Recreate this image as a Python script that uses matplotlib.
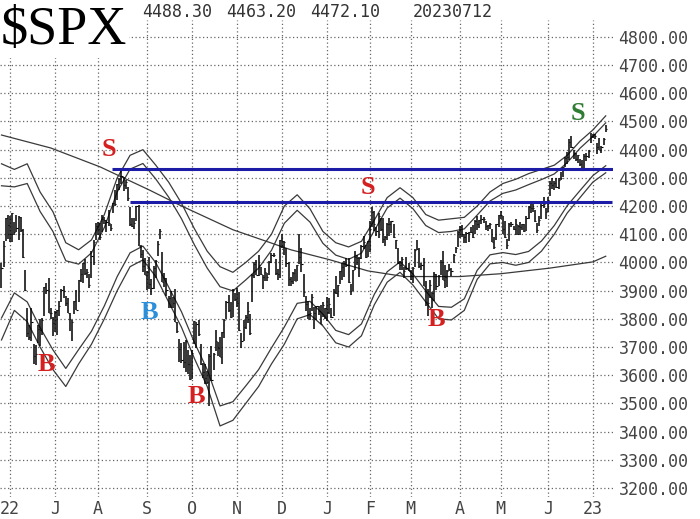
import numpy as np
import matplotlib
matplotlib.use("Agg")
import matplotlib.pyplot as plt

# daily bars, 25 May 2022 .. 12 Jul 2023 (trading-day index -4 .. 278)
hi = [3999, 4076, 4158, 4169,
      4166, 4177, 4142, 4168, 4164, 4160, 4120, 3974, 3838, 3778, 3837, 3711, 3707, 3779, 3798, 3802, 3913, 3928, 3945, 3838, 3807,
      3829, 3832, 3863, 3906, 3918, 3880, 3873, 3822, 3796, 3864, 3903, 3938, 3975, 3999, 4013, 3975, 3958, 4039, 4078, 4140,
      4145, 4141, 4167, 4161, 4151, 4187, 4138, 4211, 4257, 4280, 4301, 4325, 4302, 4292, 4267, 4195, 4159, 4156, 4200, 4203, 4062, 4044, 4015,
      3970, 4018, 3942, 3987, 4010, 4076, 4119, 4038, 3961, 3944, 3880, 3900, 3877, 3907, 3789, 3727, 3716, 3717, 3726, 3688, 3671,
      3688, 3791, 3790, 3797, 3710, 3644, 3640, 3616, 3675, 3703, 3679, 3762, 3718, 3736, 3753, 3799, 3862, 3886, 3859, 3905, 3893,
      3911, 3894, 3751, 3796, 3813, 3859, 3818, 3958, 4002, 4009, 4028, 3983, 3954, 3979, 3962, 4004, 4034, 4034, 4013, 3976, 4080,
      4100, 4076, 4052, 4002, 3950, 3966, 3977, 3991, 4101, 4053, 3958, 3880, 3864, 3839, 3889, 3841, 3846, 3846, 3849, 3858, 3839,
      3878, 3874, 3839, 3906, 3951, 3920, 3970, 3997, 4004, 4015, 4015, 3922, 3973, 4039, 4028, 4019, 4061, 4094, 4063, 4077,
      4148, 4195, 4182, 4124, 4176, 4157, 4156, 4094, 4140, 4156, 4148, 4136, 4081, 4050, 4004, 4018, 3983, 4018, 3997,
      3972, 3985, 4048, 4078, 4051, 3998, 4017, 3934, 3906, 3937, 3894, 3965, 3958, 3956, 4009, 4039, 3991, 3972, 3996, 3979, 4030, 4055, 4110,
      4129, 4134, 4100, 4108, 4109, 4125, 4132, 4150, 4163, 4151, 4169, 4160, 4148, 4133, 4141, 4120, 4089, 4138, 4170,
      4184, 4164, 4148, 4082, 4140, 4142, 4131, 4155, 4133, 4143, 4138, 4136, 4164, 4202, 4213, 4210, 4186, 4140, 4165, 4213, 4231, 4192,
      4232, 4290, 4300, 4289, 4299, 4298, 4322, 4340, 4375, 4391, 4439, 4448, 4400, 4387, 4382, 4366, 4363, 4384, 4390, 4398, 4458,
      4456, 4454, 4422, 4443, 4412, 4443, 4488]
lo = [3909, 3984, 4077, 4084,
      4073, 4074, 4098, 4109, 4080, 4107, 4017, 3900, 3734, 3724, 3723, 3640, 3636, 3715, 3705, 3743, 3810, 3889, 3820, 3799, 3739,
      3752, 3743, 3811, 3858, 3875, 3847, 3819, 3758, 3721, 3817, 3831, 3860, 3930, 3927, 3955, 3944, 3910, 3945, 3992, 4079,
      4096, 4080, 4107, 4135, 4108, 4128, 4112, 4177, 4201, 4220, 4256, 4277, 4254, 4262, 4218, 4129, 4124, 4120, 4147, 4057, 4017, 3965, 3954,
      3904, 3907, 3886, 3907, 3944, 4022, 4084, 3932, 3912, 3880, 3838, 3838, 3837, 3789, 3750, 3648, 3644, 3624, 3610, 3605, 3584,
      3585, 3709, 3695, 3739, 3636, 3590, 3570, 3570, 3491, 3578, 3618, 3687, 3668, 3664, 3640, 3733, 3799, 3824, 3803, 3808, 3863,
      3843, 3758, 3698, 3722, 3764, 3786, 3744, 3859, 3944, 3956, 3953, 3954, 3906, 3933, 3933, 3956, 3999, 4020, 3955, 3938, 3944,
      4051, 4026, 3984, 3918, 3916, 3923, 3933, 3935, 3994, 3965, 3879, 3828, 3800, 3795, 3827, 3765, 3795, 3813, 3783, 3805, 3801,
      3794, 3816, 3803, 3809, 3887, 3877, 3924, 3937, 3947, 3984, 3928, 3886, 3899, 3974, 3990, 3950, 4013, 4049, 4017, 4020,
      4037, 4124, 4111, 4094, 4088, 4111, 4069, 4060, 4079, 4095, 4103, 4088, 4047, 3995, 3974, 3972, 3944, 3973, 3968,
      3939, 3928, 3983, 4044, 3980, 3973, 3917, 3847, 3809, 3874, 3838, 3864, 3901, 3916, 3956, 3936, 3910, 3914, 3970, 3951, 3997, 4032, 4056,
      4086, 4089, 4069, 4069, 4073, 4103, 4087, 4100, 4114, 4123, 4135, 4140, 4114, 4113, 4118, 4071, 4049, 4080, 4127,
      4155, 4101, 4088, 4048, 4077, 4124, 4116, 4098, 4099, 4099, 4114, 4109, 4113, 4153, 4176, 4180, 4143, 4104, 4130, 4154, 4192, 4155,
      4180, 4234, 4261, 4257, 4264, 4261, 4293, 4304, 4338, 4348, 4362, 4407, 4367, 4360, 4351, 4341, 4328, 4336, 4360, 4372, 4423,
      4442, 4437, 4385, 4398, 4390, 4416, 4463]
cl = [3979, 4058, 4158, 4132,
      4101, 4176, 4109, 4121, 4161, 4116, 4018, 3901, 3750, 3735, 3790, 3667, 3675, 3765, 3760, 3796, 3912, 3901, 3821, 3819, 3785,
      3825, 3831, 3845, 3903, 3899, 3855, 3819, 3801, 3790, 3863, 3831, 3937, 3960, 3999, 3962, 3967, 3921, 4024, 4073, 4130,
      4119, 4091, 4155, 4152, 4145, 4140, 4122, 4210, 4207, 4280, 4297, 4305, 4275, 4284, 4228, 4138, 4128, 4141, 4199, 4058, 4031, 3986, 3955,
      3967, 3924, 3908, 3980, 4006, 4067, 4110, 3932, 3946, 3901, 3873, 3900, 3856, 3790, 3758, 3693, 3655, 3647, 3720, 3640, 3586,
      3678, 3791, 3783, 3745, 3640, 3612, 3589, 3577, 3669, 3583, 3677, 3720, 3695, 3666, 3752, 3797, 3859, 3830, 3807, 3901, 3872,
      3856, 3760, 3720, 3771, 3807, 3828, 3749, 3956, 3993, 3957, 3992, 3959, 3947, 3965, 3950, 4003, 4027, 4026, 3964, 3958, 4080,
      4076, 4071, 3998, 3941, 3933, 3963, 3934, 3990, 4019, 3996, 3895, 3852, 3817, 3821, 3879, 3822, 3845, 3829, 3783, 3849, 3840,
      3825, 3853, 3808, 3895, 3893, 3919, 3970, 3983, 3999, 3991, 3929, 3899, 3973, 4020, 4017, 4016, 4060, 4071, 4018, 4077,
      4119, 4180, 4136, 4111, 4164, 4118, 4082, 4090, 4137, 4136, 4148, 4090, 4079, 3997, 3991, 4012, 3970, 3982, 3970,
      3951, 3981, 4045, 4048, 3986, 3992, 3918, 3861, 3855, 3920, 3892, 3960, 3917, 3951, 4002, 3937, 3949, 3971, 3978, 3971, 4027, 4051, 4109,
      4124, 4101, 4090, 4105, 4109, 4108, 4092, 4146, 4138, 4151, 4154, 4155, 4130, 4133, 4137, 4071, 4056, 4136, 4169,
      4168, 4120, 4091, 4061, 4136, 4138, 4119, 4138, 4130, 4124, 4136, 4110, 4158, 4198, 4192, 4192, 4146, 4115, 4151, 4205, 4206, 4180,
      4221, 4282, 4274, 4283, 4267, 4294, 4299, 4338, 4369, 4373, 4426, 4410, 4389, 4366, 4381, 4348, 4328, 4378, 4377, 4396, 4450,
      4455, 4447, 4411, 4399, 4410, 4439, 4472]

# bands every 6 trading days
band_x = [-4, 2, 8, 14, 20, 26, 32, 38, 44, 50, 56, 62, 68, 74, 80, 86, 92, 98, 104, 110, 116, 122, 128, 134,
          140, 146, 152, 158, 164, 170, 176, 182, 188, 194, 200, 206, 212, 218, 224, 230, 236, 242, 248, 254, 260, 266, 272, 278]
upper4 = [4350, 4330, 4350, 4250, 4180, 4070, 4045, 4080, 4170, 4300, 4380, 4400, 4345, 4285, 4210, 4120, 4040, 3985, 3965, 4000, 4040, 4100, 4200, 4240,
          4190, 4110, 4070, 4055, 4075, 4150, 4230, 4265, 4230, 4170, 4150, 4155, 4160, 4200, 4250, 4280, 4295, 4315, 4330, 4345, 4380, 4430, 4470, 4520]
upper3 = [4272, 4268, 4280, 4181, 4110, 4006, 3994, 4034, 4124, 4250, 4331, 4351, 4296, 4232, 4155, 4063, 3980, 3914, 3899, 3938, 3980, 4043, 4139, 4185,
          4143, 4068, 4026, 4011, 4033, 4113, 4193, 4228, 4191, 4131, 4106, 4110, 4119, 4168, 4218, 4245, 4257, 4276, 4294, 4314, 4354, 4405, 4447, 4495]
lower3 = [3803, 3892, 3860, 3769, 3690, 3624, 3691, 3756, 3846, 3950, 4034, 4058, 3999, 3913, 3825, 3717, 3620, 3491, 3506, 3562, 3620, 3697, 3771, 3855,
          3862, 3817, 3759, 3744, 3782, 3887, 3967, 4002, 3959, 3899, 3844, 3841, 3871, 3972, 4027, 4035, 4028, 4039, 4076, 4131, 4201, 4255, 4308, 4343]
lower4 = [3725, 3830, 3790, 3700, 3620, 3560, 3640, 3710, 3800, 3900, 3985, 4009, 3950, 3860, 3770, 3660, 3560, 3420, 3440, 3500, 3560, 3640, 3710, 3800,
          3815, 3775, 3715, 3700, 3740, 3850, 3930, 3965, 3920, 3860, 3800, 3796, 3830, 3940, 3995, 4000, 3990, 4000, 4040, 4100, 4175, 4230, 4285, 4318]

# 200-day moving average
ma_x = [-4, 19, 42, 65, 79, 104, 131, 149, 167, 184, 210, 229, 252, 272, 278]
ma200 = [4452, 4406, 4339, 4257, 4204, 4116, 4045, 4010, 3970, 3950, 3950, 3960, 3980, 4002, 4022]

levels = [4330, 4215]
month_x = [0, 21, 41, 64, 85, 106, 127, 148, 168, 187, 210, 229, 251, 272]
month_lbl = ['22', 'J', 'A', 'S', 'O', 'N', 'D', 'J', 'F', 'M', 'A', 'M', 'J', '23']
header = ['4488.30', '4463.20', '4472.10', '20230712']

# B / S signals: (text, x, price, colour)
signals = [('S', 46, 4400, '#d42020'), ('S', 167, 4265, '#d42020'), ('S', 265, 4530, '#2e7d32'),
           ('B', 17, 3637, '#d42020'), ('B', 65, 3821, '#2b8fd9'), ('B', 87, 3523, '#d42020'),
           ('B', 199, 3796, '#d42020')]

mono = 'DejaVu Sans Mono'
fig = plt.figure(figsize=(7, 5.19), dpi=100)
ax = fig.add_axes([0, 22 / 519, 613 / 700, 477 / 519])
ax.set_xlim(-4.7, 281.4)
ax.set_ylim(3168, 4860)

x = np.arange(-4, -4 + len(hi))
ax.vlines(x, lo, hi, color='k', lw=1.1, zorder=3)
ax.hlines(cl, x, x + 0.5, color='k', lw=0.8, zorder=3)

for b in (upper4, upper3, lower3, lower4):
    ax.plot(band_x, b, color='#3a3a3a', lw=0.9, zorder=2)
ax.plot(ma_x, ma200, color='#3a3a3a', lw=0.9, zorder=2)

ax.hlines(levels[0], 47.6, 281.4, color='#1c1ca6', lw=2.2, zorder=4)
ax.hlines(levels[1], 56, 281, color='#1c1ca6', lw=2.2, zorder=4)

for t, sx, sy, c in signals:
    ax.text(sx, sy, t, color=c, fontsize=19, fontweight='bold', family='Liberation Serif',
            ha='center', va='center', zorder=5)

ax.set_yticks(np.arange(3200, 4801, 100))
ax.set_yticklabels(['%.2f' % v for v in np.arange(3200, 4801, 100)], family=mono, fontsize=12, color='#444')
ax.yaxis.tick_right()
ax.set_xticks(month_x)
ax.set_xticklabels(month_lbl, family=mono, fontsize=12, color='#444')
ax.tick_params(length=0, pad=4)
ax.tick_params(axis='x', pad=2)
ax.grid(True, color='#666', lw=0.9, linestyle=(0, (1, 2)))
for s in ax.spines.values():
    s.set_visible(False)

fig.text(1 / 700, 1 - 31 / 519, r'\$SPX', family='Liberation Serif', fontsize=39, va='center', ha='left',
         bbox=dict(facecolor='white', edgecolor='none', pad=1))
for s, px in zip(header, [142, 226, 310, 413]):
    fig.text(px / 700, 1 - 12 / 519, s, family=mono, fontsize=12, color='#333', va='center', ha='left')

fig.savefig('out.png', dpi=100)
